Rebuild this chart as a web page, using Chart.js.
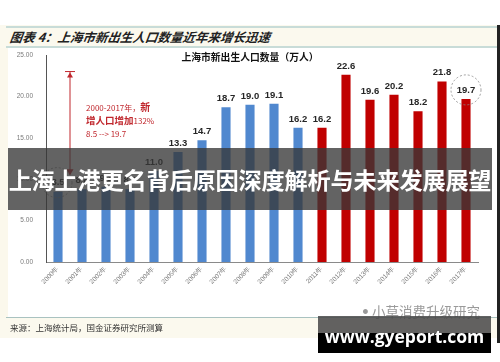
<!DOCTYPE html>
<html><head><meta charset="utf-8">
<script src="https://cdn.jsdelivr.net/npm/chart.js@4.4.0/dist/chart.umd.min.js"></script>
<style>
html,body{margin:0;padding:0;background:#fff;width:500px;height:362px;overflow:hidden;font-family:"Noto Sans CJK SC","Noto Sans",sans-serif}
#wrap{position:relative;width:500px;height:362px}
.abs{position:absolute}
</style></head><body>
<div id="wrap">
  <div class="abs" style="left:0;top:48px;width:8px;height:270px;background:#fbf8ec"></div>
  <div class="abs" style="left:0;top:25px;width:498px;height:23px;background:#fbf9ee"></div>
  <div class="abs" style="left:6px;top:26px;width:492px;height:2px;background:#c8dcd8"></div>
  <div class="abs" style="left:6px;top:46px;width:492px;height:2px;background:#c8dcd8"></div>
  <div class="abs" style="left:10px;top:28px;font-size:12.5px;font-weight:bold;font-style:italic;color:#222;line-height:18px;white-space:nowrap;transform:skewX(-8deg)">图表 4：上海市新出生人口数量近年来增长迅速</div>
  <div class="abs" style="left:8px;top:48px;width:490px;height:270px;background:#fff"></div>
  <canvas id="c" width="500" height="362" class="abs" style="left:0;top:0"></canvas>
  <div class="abs" style="left:180px;top:49px;width:140px;text-align:center;font-size:9.8px;font-weight:bold;color:#111;line-height:16px;white-space:nowrap">上海市新出生人口数量（万人）</div>
  <div class="abs" style="left:86px;top:100px;color:#c0272d;line-height:13px;white-space:nowrap">
    <div style="font-size:8px">2000-2017年，<b style="font-size:10px">新</b></div>
    <div style="font-size:9.5px;font-weight:bold">增人口增加<span style="font-size:8px;font-weight:normal">132%</span></div>
    <div style="font-size:8px">8.5 --&gt; 19.7</div>
  </div>
  <div class="abs" style="left:8px;top:148px;width:484px;height:62px;background:rgba(55,55,55,0.78)"></div>
  <div class="abs" style="left:6px;top:148px;width:488px;height:62px;line-height:62px;text-align:center;color:#fff;font-size:23.2px;font-weight:bold;white-space:nowrap;letter-spacing:-0.2px">上海上港更名背后原因深度解析与未来发展展望</div>
  <div class="abs" style="left:0;top:318px;width:498px;height:20px;background:#fbf9ee"></div>
  <div class="abs" style="left:6px;top:317px;width:492px;height:1px;background:#a9c2c0"></div>
  <div class="abs" style="left:10px;top:320px;font-size:8.5px;color:#333;line-height:14px;white-space:nowrap">来源：上海统计局，国金证券研究所测算</div>
  <div class="abs" style="left:362px;top:302px;font-size:13.5px;color:#9a9a9a;line-height:18px;white-space:nowrap">ꔷ 小草消费升级研究</div>
  <div class="abs" style="left:318px;top:316px;width:173px;height:17px;background:rgba(70,70,70,0.85)"></div>
  <div class="abs" style="left:318px;top:333px;width:173px;height:20px;background:#000"></div>
  <div class="abs" style="left:318px;top:323px;width:173px;text-align:center;color:#fff;font-size:17.5px;font-weight:bold;line-height:26px;font-family:'Open Sans','DejaVu Sans',sans-serif;white-space:nowrap">www.gyeport.com</div>
  <div class="abs" style="left:497px;top:25px;width:3px;height:318px;background:#222"></div>
</div>
<script>
const years = ["2000年","2001年","2002年","2003年","2004年","2005年","2006年","2007年","2008年","2009年","2010年","2011年","2012年","2013年","2014年","2015年","2016年","2017年"];
const births = [8.5, 8.8, 9.1, 8.8, 11.0, 13.3, 14.7, 18.7, 19.0, 19.1, 16.2, 16.2, 22.6, 19.6, 20.2, 18.2, 21.8, 19.7];
const blueCount = 11;
const yTicks = [0, 5, 10, 15, 20, 25];
const barColors = births.map((v,i) => i < blueCount ? "#5088cf" : "#c00000");

const labelsPlugin = {
  id: "labels",
  afterDatasetsDraw(chart) {
    const ctx = chart.ctx;
    const meta = chart.getDatasetMeta(0);
    const xs = chart.scales.x, ys = chart.scales.y;
    ctx.save();
    ctx.font = "bold 9.5px 'Liberation Sans', Arial, sans-serif";
    ctx.fillStyle = "#262626";
    ctx.textAlign = "center";
    ctx.textBaseline = "bottom";
    meta.data.forEach((bar, i) => {
      ctx.fillText(births[i].toFixed(1), bar.x, bar.y - 4);
    });
    ctx.strokeStyle = "#888";
    ctx.lineWidth = 0.8;
    ctx.setLineDash([2, 2]);
    [0, births.length - 1].forEach(i => {
      const b = meta.data[i];
      ctx.beginPath();
      ctx.arc(b.x + (i === 0 ? -1 : 0), b.y - 9, 15, 0, Math.PI * 2);
      ctx.stroke();
    });
    ctx.setLineDash([]);
    const ax = (xs.getPixelForValue(0) + xs.getPixelForValue(1)) / 2;
    const yTop = ys.getPixelForValue(23);
    const yBot = ys.getPixelForValue(10.6);
    ctx.strokeStyle = "#c0272d";
    ctx.fillStyle = "#c0272d";
    ctx.lineWidth = 1;
    ctx.beginPath();
    ctx.moveTo(ax, yTop); ctx.lineTo(ax, yBot);
    ctx.moveTo(ax - 5, yTop); ctx.lineTo(ax + 5, yTop);
    ctx.stroke();
    ctx.beginPath();
    ctx.moveTo(ax - 3, yTop + 6); ctx.lineTo(ax + 3, yTop + 6); ctx.lineTo(ax, yTop + 1); ctx.closePath(); ctx.fill();
    ctx.beginPath();
    ctx.moveTo(ax - 3.5, yBot - 5); ctx.lineTo(ax + 3.5, yBot - 5); ctx.lineTo(ax, yBot + 1); ctx.closePath(); ctx.fill();
    ctx.restore();
  }
};

new Chart(document.getElementById("c"), {
  type: "bar",
  data: { labels: years, datasets: [{ data: births, backgroundColor: barColors, barPercentage: 0.38, categoryPercentage: 1 }] },
  options: {
    responsive: false, animation: false,
    layout: { padding: { left: 0, right: 22, top: 55, bottom: 0 } },
    plugins: { legend: { display: false }, tooltip: { enabled: false } },
    scales: {
      x: {
        grid: { display: false, drawTicks: false },
        border: { display: true, color: "#8a8a8a", width: 1 },
        ticks: { color: "#7a7a7a", font: { size: 6.5, family: "'Liberation Sans', Arial, sans-serif" }, minRotation: 45, maxRotation: 45, padding: 3 },
        afterFit(s) { s.height = 100; }
      },
      y: {
        min: 0, max: 25,
        afterBuildTicks(s) { s.ticks = yTicks.map(v => ({ value: v })); },
        grid: { display: false, drawTicks: false },
        border: { display: true, color: "#555", width: 1 },
        ticks: { color: "#7a7a7a", font: { size: 6.5, family: "'Liberation Sans', Arial, sans-serif" }, padding: 13, callback: v => Number(v).toFixed(2) },
        afterFit(s) { s.width = 46; }
      }
    }
  },
  plugins: [labelsPlugin]
});
</script>
</body></html>
